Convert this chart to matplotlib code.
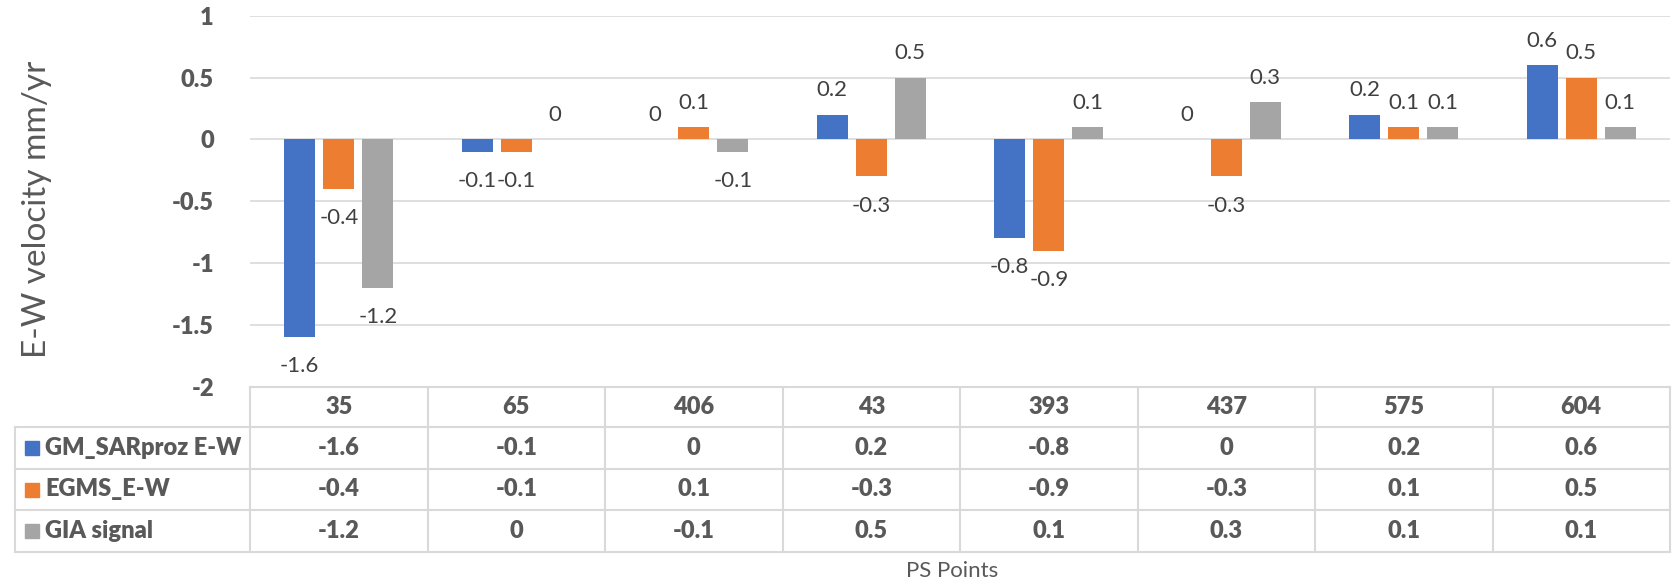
import numpy as np
import matplotlib
matplotlib.use("Agg")
from matplotlib import pyplot as plt
from matplotlib import transforms
from matplotlib.lines import Line2D
from matplotlib.patches import Rectangle

# PS points and E-W velocities (mm/yr)
points = ["35", "65", "406", "43", "393", "437", "575", "604"]
series_names = ["GM_SARproz E-W", "EGMS_E-W", "GIA signal"]
gm_sarproz = [-1.6, -0.1, 0, 0.2, -0.8, 0, 0.2, 0.6]
egms = [-0.4, -0.1, 0.1, -0.3, -0.9, -0.3, 0.1, 0.5]
gia = [-1.2, 0, -0.1, 0.5, 0.1, 0.3, 0.1, 0.1]
y_ticks = [1, 0.5, 0, -0.5, -1, -1.5, -2]

colors = ["#4472C4", "#ED7D31", "#A5A5A5"]
text_grey = "#595959"
label_grey = "#404040"
line_grey = "#D9D9D9"

plt.rcParams["font.family"] = ["Lato", "DejaVu Sans"]
BOLD = "heavy"
TABLE_FS = 17

W, H, DPI = 1673, 584, 100
fig = plt.figure(figsize=(W / DPI, H / DPI), dpi=DPI)

def fx(px):
	return px / W

def fy(px):
	return 1 - px / H

plot_left, plot_right = 250, 1670
plot_top, plot_bottom = 15.7, 386.7
ax = fig.add_axes([fx(plot_left), fy(plot_bottom), fx(plot_right - plot_left), (plot_bottom - plot_top) / H])

x = np.arange(len(points))
bar_w = 0.175
step = 0.22
all_series = [gm_sarproz, egms, gia]

for k, vals in enumerate(all_series):
	pos = x + (k - 1) * step
	ax.bar(pos, vals, bar_w, color=colors[k], zorder=3)
	for xp, v in zip(pos, vals):
		if v >= 0:
			off = 17.5
		else:
			off = -21
		ax.annotate("{:g}".format(v), (xp, v), xytext=(0, off), textcoords="offset points",
					ha="center", va="center", fontsize=16, color=label_grey)

ax.set_xlim(-0.5, len(points) - 0.5)
ax.set_ylim(-2, 1)
ax.set_yticks(y_ticks)
ax.set_yticklabels(["{:g}".format(t) for t in y_ticks], fontsize=TABLE_FS, fontweight=BOLD, color=text_grey)
ax.tick_params(axis="y", length=0, pad=26)
ax.set_xticks([])
ax.yaxis.grid(True, color=line_grey, linewidth=1.2, zorder=0)
ax.set_axisbelow(True)
for s in ax.spines.values():
	s.set_visible(False)

# data table under the plot, columns share the category positions
trans = transforms.blended_transform_factory(ax.transData, fig.transFigure)
rows = [386.7, 427.0, 469.0, 510.0, 551.7]
lw = 1.5

def hline(x0, x1, y, transform):
	fig.add_artist(Line2D([x0, x1], [fy(y), fy(y)], color=line_grey, lw=lw, transform=transform))

hline(-0.5, len(points) - 0.5, rows[0], trans)
for y in rows[1:]:
	hline(fx(15), fx(plot_right), y, fig.transFigure)
for i in range(len(points) + 1):
	fig.add_artist(Line2D([i - 0.5, i - 0.5], [fy(rows[0]), fy(rows[-1])], color=line_grey, lw=lw, transform=trans))
fig.add_artist(Line2D([fx(15), fx(15)], [fy(rows[1]), fy(rows[-1])], color=line_grey, lw=lw, transform=fig.transFigure))

for i, p in enumerate(points):
	fig.text(i, fy((rows[0] + rows[1]) / 2), p, transform=trans, ha="center", va="center",
			 fontsize=TABLE_FS, fontweight=BOLD, color=text_grey)

for k, (name, vals) in enumerate(zip(series_names, all_series)):
	yc = (rows[k + 1] + rows[k + 2]) / 2
	fig.add_artist(Rectangle((fx(25), fy(yc + 7)), fx(14), 14 / H, color=colors[k], transform=fig.transFigure))
	fig.text(fx(45), fy(yc), name, ha="left", va="center", fontsize=TABLE_FS, fontweight=BOLD, color=text_grey)
	for i, v in enumerate(vals):
		fig.text(i, fy(yc), "{:g}".format(v), transform=trans, ha="center", va="center",
				 fontsize=TABLE_FS, fontweight=BOLD, color=text_grey)

fig.text(fx(37), fy(209), "E-W velocity mm/yr", rotation=90, ha="center", va="center",
		 fontsize=24, color=text_grey)
fig.text(fx(952), fy(571), "PS Points", ha="center", va="center", fontsize=16, color=text_grey)

fig.savefig("out.png", dpi=DPI)
